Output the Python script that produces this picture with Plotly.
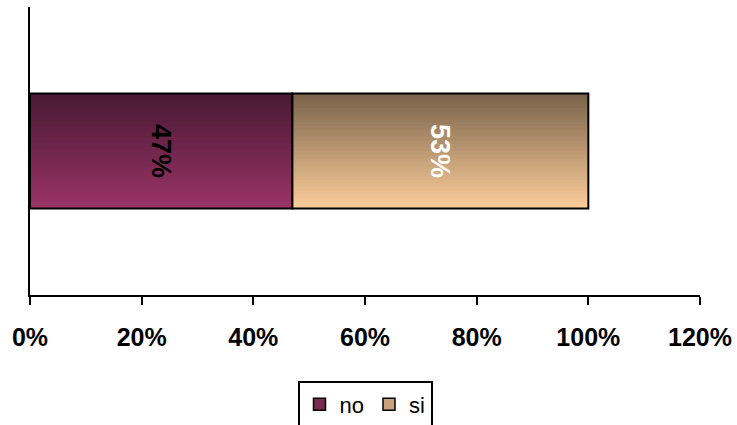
import plotly.graph_objects as go

categories = ["no", "si"]
values = [47, 53]
text_colors = ["black", "white"]
grad_top = ["#4A1A34", "#7A644C"]
grad_bottom = ["#993366", "#FCCC99"]
tick_vals = [0, 20, 40, 60, 80, 100, 120]
tick_text = ["0%", "20%", "40%", "60%", "80%", "100%", "120%"]

FONT = "Liberation Sans, Arial, sans-serif"
BAR_W = 0.4
N = 32


def hex2rgb(h):
    h = h.lstrip("#")
    return tuple(int(h[i:i + 2], 16) for i in (0, 2, 4))


def mix(c1, c2, t):
    a, b = hex2rgb(c1), hex2rgb(c2)
    return "rgb(%d,%d,%d)" % tuple(round(a[k] + (b[k] - a[k]) * t) for k in range(3))


fig = go.Figure()
bases = []
acc = 0
for v in values:
    bases.append(acc)
    acc += v

step = BAR_W / N
for ci, (cat, v, b) in enumerate(zip(categories, values, bases)):
    for i in range(N):
        t = i / (N - 1)
        w = step * 1.6 if i < N - 1 else step
        fig.add_trace(go.Bar(
            x=[v], y=[0], base=[b], orientation="h",
            width=w, offset=-BAR_W / 2 + i * step,
            marker=dict(color=mix(grad_bottom[ci], grad_top[ci], t), line=dict(width=0)),
            showlegend=False, hoverinfo="skip",
        ))
    # outline + label
    fig.add_trace(go.Bar(
        x=[v], y=[0], base=[b], orientation="h", width=BAR_W,
        marker=dict(color="rgba(0,0,0,0)", line=dict(color="black", width=2)),
        text=[f"{v}%"], textposition="inside", insidetextanchor="middle",
        textangle=90,
        textfont=dict(family=FONT, size=27, color=text_colors[ci], weight="bold"),
        showlegend=False, hoverinfo="skip",
    ))
    # legend entry
    fig.add_trace(go.Bar(
        x=[None], y=[None], orientation="h", name=cat,
        marker=dict(color=mix(grad_bottom[ci], grad_top[ci], 0.4),
                    line=dict(color="black", width=1.5)),
        showlegend=True,
    ))

fig.update_layout(
    width=737, height=425,
    barmode="overlay",
    plot_bgcolor="white", paper_bgcolor="white",
    margin=dict(l=30, r=37, t=7, b=130, autoexpand=False),
    font=dict(family=FONT, color="black"),
    xaxis=dict(
        range=[0, 120], tickvals=tick_vals, ticktext=tick_text,
        showline=True, linecolor="black", linewidth=2,
        ticks="outside", ticklen=8, tickwidth=2, tickcolor="black",
        showgrid=False, zeroline=False,
        tickfont=dict(family=FONT, size=25, color="black", weight="bold"),
        ticklabelstandoff=11,
        automargin=False,
    ),
    yaxis=dict(
        range=[-0.5, 0.5], showticklabels=False, showline=True,
        linecolor="black", linewidth=2, showgrid=False, zeroline=False, ticks="",
        automargin=False,
    ),
    legend=dict(
        orientation="h", x=0.5, xanchor="center", y=-0.30, yanchor="top",
        bordercolor="black", borderwidth=2,
        font=dict(family=FONT, size=22, color="black"),
        traceorder="normal",
    ),
)

fig.write_html(
    "out.html",
    config={"displayModeBar": False},
    post_script="document.body.style.margin='0';document.body.style.overflow='hidden';",
)
